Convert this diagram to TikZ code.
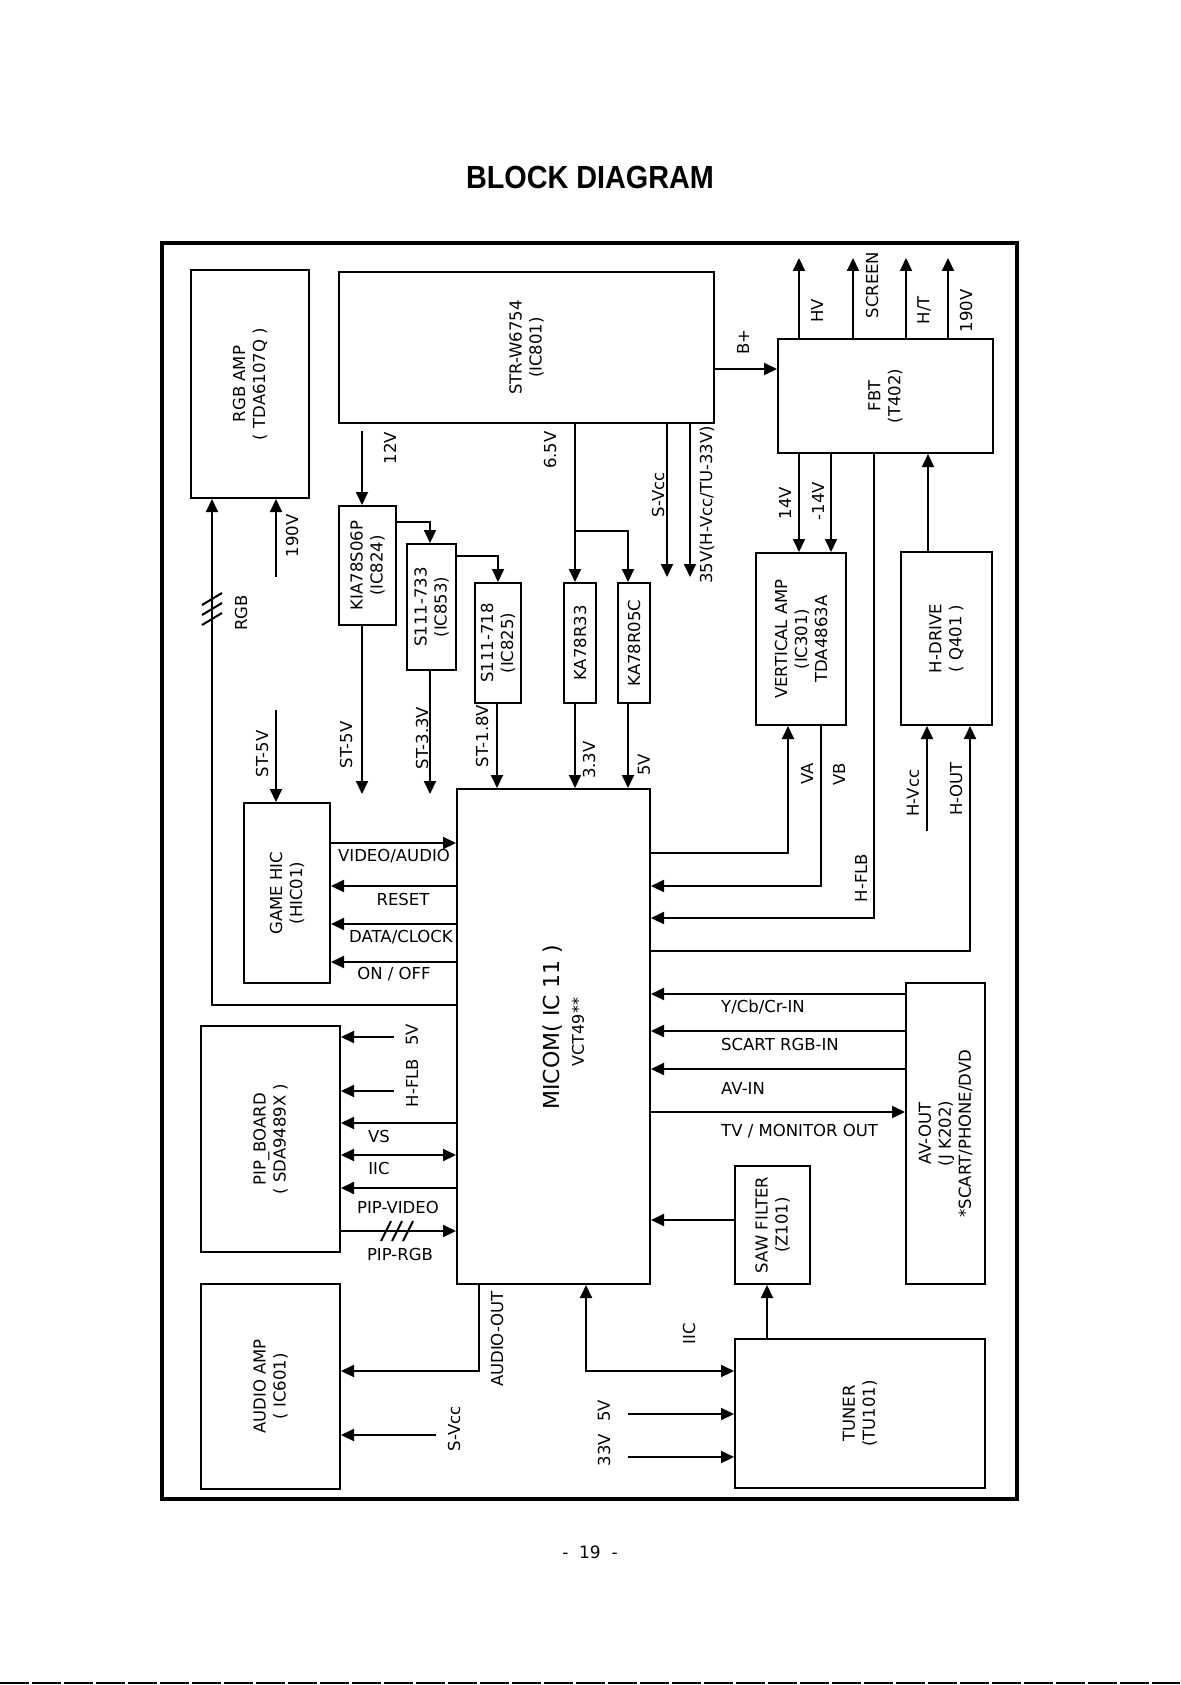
\documentclass[tikz,border=0pt]{standalone}
\usepackage{fontspec}
\setmainfont{DejaVu Sans}
\newfontfamily\titlefont{Liberation Sans}
\usetikzlibrary{arrows.meta}

\begin{document}
\begin{tikzpicture}[x=1pt,y=-1pt,every node/.style={font=\fontsize{16.5}{20}\selectfont},
  blk/.style={draw,line width=2pt,inner sep=0pt},
  ln/.style={line width=2pt},
  arr/.style={line width=2pt,-{Triangle[length=13pt,width=12pt]}},
  dbl/.style={line width=2pt,{Triangle[length=13pt,width=12pt]}-{Triangle[length=13pt,width=12pt]}},
  vl/.style={rotate=90,inner sep=0pt}]
  \useasboundingbox (0,0) rectangle (1180,1685);
  \node[font=\fontsize{32}{36}\selectfont\titlefont\bfseries] (title) at (590,177) {\scalebox{0.9}[1]{BLOCK DIAGRAM}};
  \draw[line width=4.5pt] (162,243) rectangle (1017,1499);
  \node[blk,minimum width=118pt,minimum height=228pt,label={[vl,align=center]center:{RGB AMP\\( TDA6107Q )}}] (rgbamp) at (250,384) {};
  \node[blk,minimum width=375pt,minimum height=151pt,label={[vl,align=center]center:{STR-W6754\\(IC801)}}] (str) at (526.5,347.5) {};
  \node[blk,minimum width=57pt,minimum height=119pt,label={[vl,align=center]center:{KIA78S06P\\(IC824)}}] (kia) at (367.5,565.5) {};
  \node[blk,minimum width=49pt,minimum height=126pt,label={[vl,align=center]center:{S111-733\\(IC853)}}] (s733) at (431.5,607) {};
  \node[blk,minimum width=46pt,minimum height=120pt,label={[vl,align=center]center:{S111-718\\(IC825)}}] (s718) at (498,643) {};
  \node[blk,minimum width=32pt,minimum height=120pt,label={[vl]center:KA78R33}] (ka33) at (580,643) {};
  \node[blk,minimum width=32pt,minimum height=120pt,label={[vl]center:KA78R05C}] (ka05) at (634,643) {};
  \node[blk,minimum width=215pt,minimum height=114pt,label={[vl,align=center]center:{FBT\\(T402)}}] (fbt) at (885.5,396) {};
  \node[blk,minimum width=90pt,minimum height=172pt,label={[vl,align=center]center:{VERTICAL AMP\\(IC301)\\TDA4863A}}] (vamp) at (801,639) {};
  \node[blk,minimum width=91pt,minimum height=173pt,label={[vl,align=center]center:{H-DRIVE\\( Q401 )}}] (hdrive) at (946.5,638.5) {};
  \node[blk,minimum width=86pt,minimum height=180pt,label={[vl,align=center]center:{GAME HIC\\(HIC01)}}] (game) at (287,893) {};
  \node[blk,minimum width=193pt,minimum height=495pt] (micom) at (553.5,1036.5) {};
  \node[vl,font=\fontsize{22}{26}\selectfont] (micomt) at (553,1027) {MICOM( IC 11 )};
  \node[vl,font=\fontsize{16}{20}\selectfont] (vct) at (578,1032) {VCT49**};
  \node[blk,minimum width=139pt,minimum height=226pt,label={[vl,align=center]center:{PIP\_BOARD\\( SDA9489X )}}] (pip) at (270.5,1139) {};
  \node[blk,minimum width=139pt,minimum height=205pt,label={[vl,align=center]center:{AUDIO AMP\\( IC601)}}] (audio) at (270.5,1386.5) {};
  \node[blk,minimum width=79pt,minimum height=301pt,label={[vl,align=center,yshift=0pt]center:{AV-OUT\\(J K202)\\*SCART/PHONE/DVD}}] (avout) at (945.5,1133.5) {};
  \node[blk,minimum width=75pt,minimum height=118pt,label={[vl,align=center]center:{SAW FILTER\\(Z101)}}] (saw) at (772.5,1225) {};
  \node[blk,minimum width=250pt,minimum height=149pt,label={[vl,align=center]center:{TUNER\\(TU101)}}] (tuner) at (860,1413.5) {};

  \coordinate (c12) at (362,431);
  \draw[arr] (c12) -- (c12 |- kia.north);
  \draw[arr] (575,0 |- str.south) -- (575,0 |- ka33.north);
  \coordinate (j65) at (575,531);
  \draw[arr] (j65) -| (628,0 |- ka05.north);
  \coordinate (svcc) at (667,577);
  \draw[arr] (svcc |- str.south) -- (svcc);
  \coordinate (v35) at (690,577);
  \draw[arr] (v35 |- str.south) -- (v35);
  \draw[arr] (str.east |- 0,369) -- (fbt.west |- 0,369);
  \coordinate (hv) at (799,258);
  \coordinate (scr) at (853,258);
  \coordinate (ht) at (906,258);
  \coordinate (v190t) at (948,258);
  \draw[arr] (hv |- fbt.north) -- (hv);
  \draw[arr] (scr |- fbt.north) -- (scr);
  \draw[arr] (ht |- fbt.north) -- (ht);
  \draw[arr] (v190t |- fbt.north) -- (v190t);
  \draw[arr] (799,0 |- fbt.south) -- (799,0 |- vamp.north);
  \draw[arr] (831,0 |- fbt.south) -- (831,0 |- vamp.north);
  \draw[arr] (874,0 |- fbt.south) |- (micom.east |- 0,918);
  \draw[arr] (928,0 |- hdrive.north) -- (928,0 |- fbt.south);
  \draw[arr] (micom.east |- 0,853) -| (788,0 |- vamp.south);
  \draw[arr] (821,0 |- vamp.south) |- (micom.east |- 0,886);
  \coordinate (hvcc) at (927,831);
  \draw[arr] (hvcc) -- (hvcc |- hdrive.south);
  \draw[arr] (micom.east |- 0,951) -| (970,0 |- hdrive.south);

  \draw[arr] (kia.east |- 0,522) -| (430,0 |- s733.north);
  \draw[arr] (s733.east |- 0,556) -| (498,0 |- s718.north);
  \coordinate (st5b) at (362,794);
  \draw[arr] (st5b |- kia.south) -- (st5b);
  \coordinate (st33) at (430,794);
  \draw[arr] (st33 |- s733.south) -- (st33);
  \draw[arr] (497,0 |- s718.south) -- (497,0 |- micom.north);
  \draw[arr] (575,0 |- ka33.south) -- (575,0 |- micom.north);
  \draw[arr] (628,0 |- ka05.south) -- (628,0 |- micom.north);
  \coordinate (st5a) at (276,710);
  \draw[arr] (st5a) -- (st5a |- game.north);

  \draw[arr] (micom.west |- 0,1005) -| (212,0 |- rgbamp.south);
  \draw[ln] (202,605) -- (222,593);
  \draw[ln] (202,615) -- (222,603);
  \draw[ln] (202,625) -- (222,613);
  \coordinate (v190) at (276,577);
  \draw[arr] (v190) -- (v190 |- rgbamp.south);

  \draw[arr] (game.east |- 0,843) -- (micom.west |- 0,843);
  \draw[arr] (micom.west |- 0,886) -- (game.east |- 0,886);
  \draw[arr] (micom.west |- 0,924) -- (game.east |- 0,924);
  \draw[arr] (micom.west |- 0,962) -- (game.east |- 0,962);

  \coordinate (p5) at (394,1037);
  \draw[arr] (p5) -- (p5 -| pip.east);
  \coordinate (phflb) at (394,1091);
  \draw[arr] (phflb) -- (phflb -| pip.east);
  \draw[arr] (micom.west |- 0,1123) -- (pip.east |- 0,1123);
  \draw[dbl] (micom.west |- 0,1155) -- (pip.east |- 0,1155);
  \draw[arr] (micom.west |- 0,1188) -- (pip.east |- 0,1188);
  \draw[arr] (pip.east |- 0,1231) -- (micom.west |- 0,1231);
  \draw[ln] (381,1241) -- (391,1221);
  \draw[ln] (392,1241) -- (402,1221);
  \draw[ln] (403,1241) -- (413,1221);

  \draw[arr] (479,0 |- micom.south) |- (audio.east |- 0,1371);
  \coordinate (asvcc) at (436,1435);
  \draw[arr] (asvcc) -- (asvcc -| audio.east);
  \draw[dbl] (586,0 |- micom.south) |- (tuner.west |- 0,1371);
  \coordinate (t5) at (628,1414);
  \draw[arr] (t5) -- (t5 -| tuner.west);
  \coordinate (t33) at (628,1457);
  \draw[arr] (t33) -- (t33 -| tuner.west);
  \draw[arr] (saw.west |- 0,1220) -- (micom.east |- 0,1220);
  \draw[arr] (767,0 |- tuner.north) -- (767,0 |- saw.south);

  \draw[arr] (avout.west |- 0,994) -- (micom.east |- 0,994);
  \draw[arr] (avout.west |- 0,1031) -- (micom.east |- 0,1031);
  \draw[arr] (avout.west |- 0,1069) -- (micom.east |- 0,1069);
  \draw[arr] (micom.east |- 0,1112) -- (avout.west |- 0,1112);

  \node[vl] (l12) at (390,448) {12V};
  \node[vl] (l65) at (550,450) {6.5V};
  \node[vl] (lsvcc) at (658,495) {S-Vcc};
  \node[vl] (l35) at (707,505) {35V(H-Vcc/TU-33V)};
  \node[vl] (lbp) at (743,342) {B+};
  \node[vl] (lhv) at (817,311) {HV};
  \node[vl] (lscr) at (872,285) {SCREEN};
  \node[vl] (lht) at (924,310) {H/T};
  \node[vl] (l190t) at (966,311) {190V};
  \node[vl] (l14) at (785,503) {14V};
  \node[vl] (lm14) at (818,501) {-14V};
  \node[vl] (lrgb) at (241,613) {RGB};
  \node[vl] (l190) at (292,536) {190V};
  \node[vl] (lst5a) at (262,754) {ST-5V};
  \node[vl] (lst5b) at (346,745) {ST-5V};
  \node[vl] (lst33) at (422,738) {ST-3.3V};
  \node[vl] (lst18) at (482,736) {ST-1.8V};
  \node[vl] (l33) at (589,760) {3.3V};
  \node[vl] (l5) at (644,765) {5V};
  \node[vl] (lva) at (807,774) {VA};
  \node[vl] (lvb) at (839,774) {VB};
  \node[vl] (lhflb) at (861,878) {H-FLB};
  \node[vl] (lhvcc) at (913,793) {H-Vcc};
  \node[vl] (lhout) at (956,789) {H-OUT};
  \node (lvid) at (394,856) {VIDEO/AUDIO};
  \node (lrst) at (403,899) {RESET};
  \node (ldat) at (401,937) {DATA/CLOCK};
  \node (lonf) at (394,974) {ON / OFF};
  \node[anchor=west,inner sep=0pt] (lycb) at (721,1007) {Y/Cb/Cr-IN};
  \node[anchor=west,inner sep=0pt] (lscart) at (721,1044) {SCART RGB-IN};
  \node[anchor=west,inner sep=0pt] (lavin) at (721,1088) {AV-IN};
  \node[anchor=west,inner sep=0pt] (ltv) at (721,1131) {TV / MONITOR OUT};
  \node[vl] (liic) at (689,1334) {IIC};
  \node[vl] (lt5) at (604,1411) {5V};
  \node[vl] (lt33) at (604,1450) {33V};
  \node[vl] (laud) at (497,1339) {AUDIO-OUT};
  \node[vl] (lasv) at (454,1429) {S-Vcc};
  \node[vl] (lp5) at (412,1035) {5V};
  \node[vl] (lphflb) at (412,1083) {H-FLB};
  \node (lvs) at (379,1136) {VS};
  \node (lpiic) at (379,1168) {IIC};
  \node (lpvid) at (398,1207) {PIP-VIDEO};
  \node (lprgb) at (400,1254) {PIP-RGB};
  \node[font=\fontsize{17}{20}\selectfont] (pg) at (590,1552) {-\ \ 19\ \ -};
  \draw[line width=1.2pt,dash pattern=on 29pt off 3pt] (0,1683) -- (1180,1683);
\end{tikzpicture}
\end{document}
